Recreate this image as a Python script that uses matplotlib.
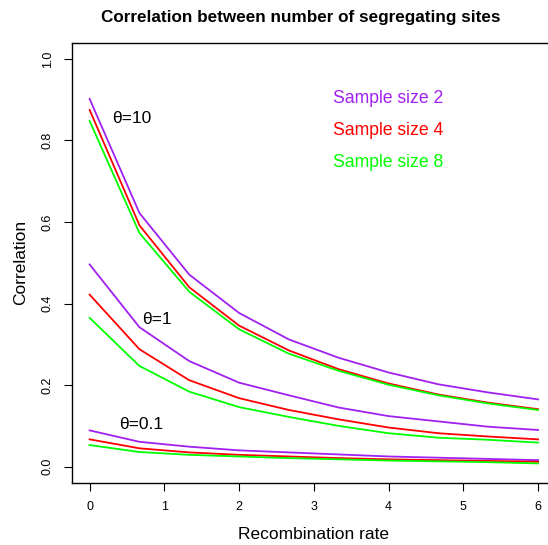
import numpy as np
import matplotlib
matplotlib.use("Agg")
import matplotlib.pyplot as plt

plt.rcParams['font.family'] = ['Liberation Sans', 'DejaVu Sans']

# recombination rates (10 grid points on 0..6)
rho = np.linspace(0, 6, 10)

# theta = 10
t10_n2 = [0.902, 0.622, 0.471, 0.377, 0.312, 0.267, 0.231, 0.202, 0.182, 0.165]
t10_n4 = [0.875, 0.592, 0.440, 0.346, 0.285, 0.239, 0.204, 0.177, 0.157, 0.141]
t10_n8 = [0.848, 0.573, 0.429, 0.337, 0.277, 0.235, 0.201, 0.175, 0.155, 0.139]

# theta = 1
t1_n2 = [0.496, 0.342, 0.259, 0.206, 0.175, 0.145, 0.124, 0.111, 0.098, 0.090]
t1_n4 = [0.422, 0.288, 0.212, 0.168, 0.139, 0.116, 0.096, 0.082, 0.074, 0.067]
t1_n8 = [0.365, 0.247, 0.184, 0.146, 0.122, 0.100, 0.082, 0.071, 0.066, 0.059]

# theta = 0.1
t01_n2 = [0.089, 0.061, 0.049, 0.040, 0.035, 0.030, 0.025, 0.022, 0.019, 0.016]
t01_n4 = [0.067, 0.045, 0.035, 0.029, 0.025, 0.021, 0.018, 0.016, 0.014, 0.012]
t01_n8 = [0.053, 0.036, 0.029, 0.025, 0.021, 0.018, 0.015, 0.013, 0.011, 0.008]

sizes = ["Sample size 2", "Sample size 4", "Sample size 8"]
cols = ["#A020F0", "#FF0000", "#00FF00"]

fig = plt.figure(figsize=(5.48, 5.45), dpi=100)
ax = fig.add_axes([0.1308, 0.1138, 0.8838, 0.808])

for group in [(t10_n2, t10_n4, t10_n8), (t1_n2, t1_n4, t1_n8), (t01_n2, t01_n4, t01_n8)]:
    for y, c in zip(group, cols):
        ax.plot(rho, y, color=c, lw=1.3)

ax.text(0.30, 0.853, "θ=10", fontsize=12.5, va="center", ha="left")
ax.text(0.70, 0.361, "θ=1", fontsize=12.5, va="center", ha="left")
ax.text(0.39, 0.104, "θ=0.1", fontsize=12.5, va="center", ha="left")

for lab, c, yy in zip(sizes, cols, [0.902, 0.824, 0.745]):
    ax.text(3.26, yy, lab, color=c, fontsize=12.7, va="center", ha="left")

ax.set_xlim(-0.24, 6.24)
ax.set_ylim(-0.04, 1.04)
ax.set_xticks(range(7))
ax.set_yticks([0, 0.2, 0.4, 0.6, 0.8, 1.0])
ax.set_yticklabels(["0.0", "0.2", "0.4", "0.6", "0.8", "1.0"], rotation=90, va="center")
ax.tick_params(direction="out", length=6, width=0.8, labelsize=9, pad=7)
for s in ax.spines.values():
    s.set_linewidth(1.0)

ax.set_xlabel("Recombination rate", fontsize=12.5, labelpad=10)
ax.set_ylabel("Correlation", fontsize=12.5, labelpad=10)
fig.text(0.548, 0.968, "Correlation between number of segregating sites",
         fontsize=12.3, fontweight="bold", ha="center", va="center")

fig.savefig("out.png", dpi=100)
